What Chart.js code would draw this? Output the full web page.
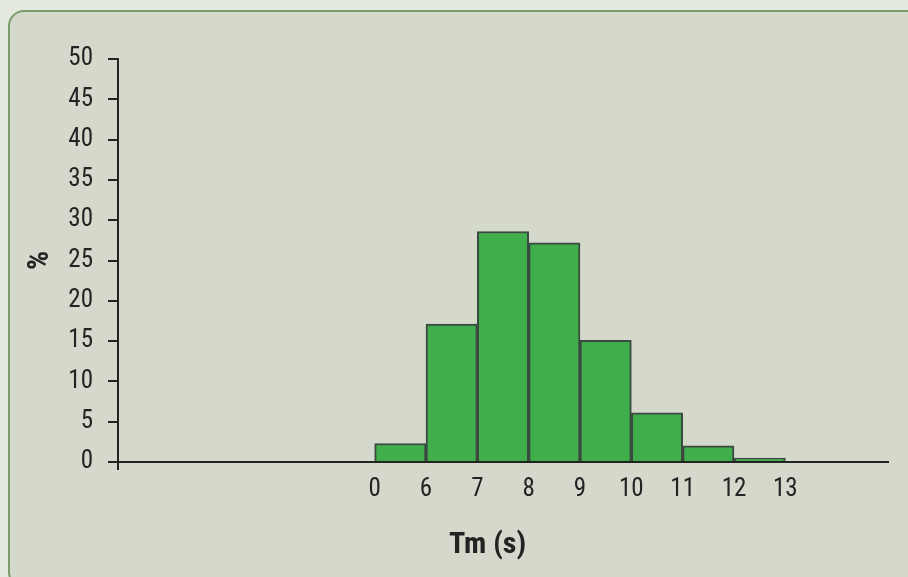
<!DOCTYPE html>
<html>
<head>
<meta charset="utf-8">
<script src="https://cdn.jsdelivr.net/npm/chart.js@4.4.1/dist/chart.umd.min.js"></script>
<style>
  html, body { margin: 0; padding: 0; }
  body { width: 908px; height: 577px; background: #e3e9df; overflow: hidden; position: relative; }
  #panel {
    position: absolute; left: 8px; top: 10px; width: 940px; height: 578px;
    background: #d4d9cb; border: 2px solid #7a9a6b; border-radius: 16px;
    box-sizing: border-box;
  }
  #wrap { position: absolute; left: 0; top: 0; width: 908px; height: 577px; }
</style>
</head>
<body>
<div id="panel"></div>
<div id="wrap"><canvas id="histo" width="908" height="577"></canvas></div>
<script>
// bin edges shown on the x axis, and % per bin
var edgeLabels = ['0', '6', '7', '8', '9', '10', '11', '12', '13'];
var binValues = [2.3, 17.1, 28.6, 27.2, 15.1, 6.1, 2.0, 0.5];
var yTicks = [0, 5, 10, 15, 20, 25, 30, 35, 40, 45, 50];

var xTitle = 'Tm (s)';
var yTitle = '%';

// empty space on the axis before the first bin, in bin widths
var leadBins = 5;
var totalBins = 15;

var fontFam = "'Liberation Sans Narrow', 'Roboto Condensed', 'Roboto', sans-serif";
var ink = '#232323';

var points = binValues.map(function (v, i) {
    return { x: leadBins + i + 0.5, y: v };
});

// x axis title sits a bit left of centre in the original
var xTitlePlugin = {
    id: 'xTitle',
    afterDraw: function (chart) {
        var ctx = chart.ctx;
        var xs = chart.scales.x;
        ctx.save();
        ctx.font = "bold 30px " + fontFam;
        ctx.fillStyle = ink;
        ctx.textAlign = 'center';
        ctx.textBaseline = 'middle';
        ctx.fillText(xTitle, xs.getPixelForValue(7.2), 545);
        ctx.restore();
    }
};

var ctx = document.getElementById('histo').getContext('2d');
var chart = new Chart(ctx, {
    type: 'bar',
    data: {
        datasets: [{
            data: points,
            backgroundColor: '#40ae4b',
            borderColor: '#3b4a40',
            borderWidth: 2,
            barPercentage: 1,
            categoryPercentage: 1
        }]
    },
    options: {
        responsive: false,
        animation: false,
        devicePixelRatio: 1,
        layout: { padding: { left: 0, right: 20, top: 59, bottom: 0 } },
        plugins: {
            legend: { display: false },
            tooltip: { enabled: false }
        },
        scales: {
            x: {
                type: 'linear',
                min: 0,
                max: totalBins,
                offset: false,
                z: 1,
                afterFit: function (s) { s.height = 115; },
                border: { display: true, color: ink, width: 2 },
                grid: {
                    offset: false,
                    drawOnChartArea: false,
                    drawTicks: true,
                    tickLength: 8,
                    lineWidth: 2,
                    color: function (c) { return c.tick && c.tick.value === 0 ? ink : 'rgba(0,0,0,0)'; }
                },
                ticks: {
                    stepSize: 1,
                    autoSkip: false,
                    maxRotation: 0,
                    padding: 5,
                    color: ink,
                    font: { family: fontFam, size: 25 },
                    callback: function (v) {
                        var i = v - leadBins;
                        return (i >= 0 && i < edgeLabels.length) ? edgeLabels[i] : '';
                    }
                }
            },
            y: {
                min: 0,
                max: 50,
                afterFit: function (s) { s.width = 118; },
                afterBuildTicks: function (s) { s.ticks = yTicks.map(function (v) { return { value: v }; }); },
                border: { display: true, color: ink, width: 2 },
                grid: {
                    drawOnChartArea: false,
                    drawTicks: true,
                    tickLength: 10,
                    lineWidth: 2,
                    color: ink
                },
                ticks: {
                    padding: 15,
                    color: ink,
                    font: { family: fontFam, size: 25 }
                },
                title: {
                    display: true,
                    text: yTitle,
                    color: ink,
                    font: { family: fontFam, size: 30, weight: 'bold' },
                    padding: { top: 22, bottom: 0 }
                }
            }
        }
    },
    plugins: [xTitlePlugin]
});
</script>
</body>
</html>
